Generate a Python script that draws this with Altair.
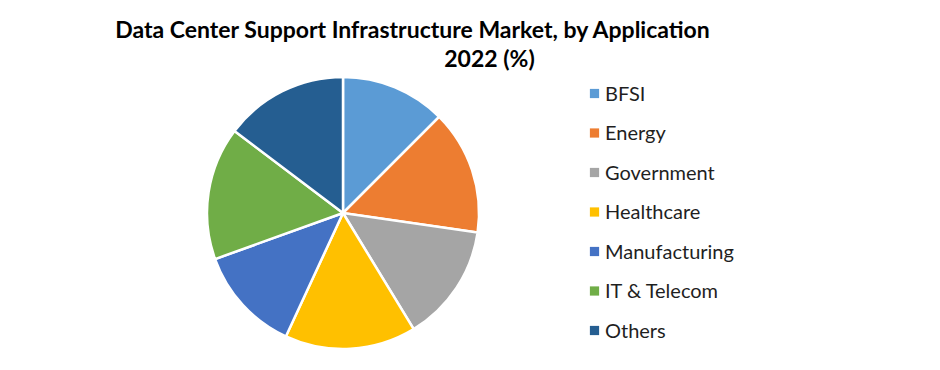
import altair as alt
import pandas as pd

categories = ["BFSI", "Energy", "Government", "Healthcare", "Manufacturing", "IT & Telecom", "Others"]
shares = [12.5, 14.8, 14.0, 15.6, 12.6, 15.8, 14.7]
colors = ["#5B9BD5", "#ED7D31", "#A5A5A5", "#FFC000", "#4472C4", "#70AD47", "#255E91"]
title_lines = ["Data Center Support Infrastructure Market, by Application", "2022 (%)"]

df = pd.DataFrame({"Application": categories, "Share": shares, "idx": list(range(len(categories)))})

W, H = 924, 354
color_scale = alt.Scale(domain=categories, range=colors)

pie = alt.Chart(df).mark_arc(outerRadius=136, stroke="white", strokeWidth=2.5).encode(
    theta=alt.Theta("Share:Q", stack=True),
    color=alt.Color("Application:N", scale=color_scale, legend=None),
    order=alt.Order("idx:Q"),
    x=alt.value(335),
    y=alt.value(205),
)

leg_y = alt.Y("Application:N", scale=alt.Scale(type="point", domain=categories, range=[85.5, 322.5], padding=0), axis=None)

leg_sq = alt.Chart(df).mark_square(size=85, opacity=1).encode(
    x=alt.value(586.5),
    y=leg_y,
    color=alt.Color("Application:N", scale=color_scale, legend=None),
)

leg_tx = alt.Chart(df).mark_text(align="left", baseline="middle", font="Lato", fontSize=20, color="#1f1f1f", dy=1).encode(
    x=alt.value(597),
    y=leg_y,
    text="Application:N",
)

t1 = alt.Chart(pd.DataFrame({"t": [title_lines[0]]})).mark_text(
    align="center", baseline="alphabetic", font="Lato", fontSize=23, fontWeight="bold", color="#000000"
).encode(x=alt.value(404.5), y=alt.value(30), text="t:N")

t2 = alt.Chart(pd.DataFrame({"t": [title_lines[1]]})).mark_text(
    align="center", baseline="alphabetic", font="Lato", fontSize=23, fontWeight="bold", color="#000000"
).encode(x=alt.value(481.5), y=alt.value(59), text="t:N")

chart = alt.layer(pie, leg_sq, leg_tx, t1, t2).properties(
    width=W, height=H, autosize=alt.AutoSizeParams(type="none"), padding=0
).configure_view(stroke=None).resolve_scale(y="shared")

chart.save("out.html", embed_options={"renderer": "svg", "actions": False})
